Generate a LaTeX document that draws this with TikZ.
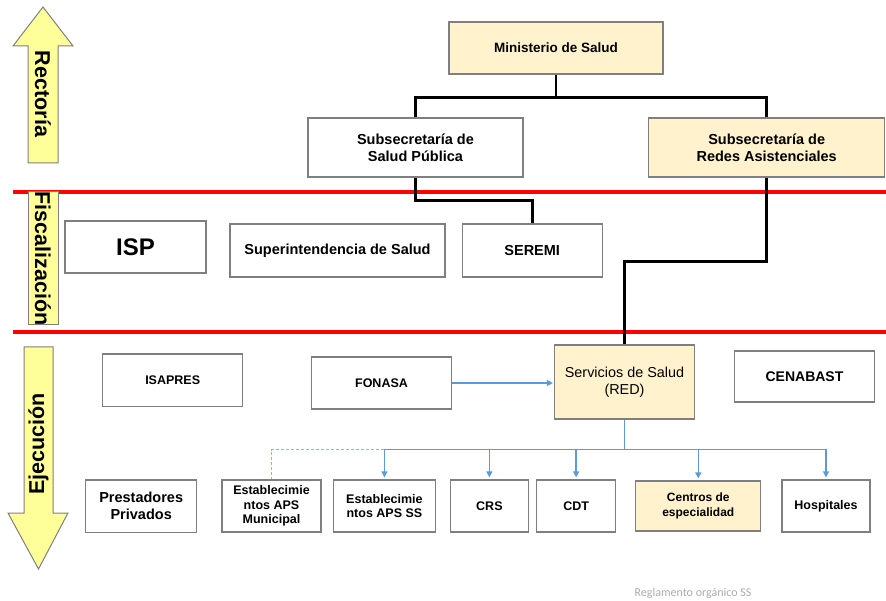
\documentclass[tikz,border=0pt]{standalone}
\usepackage{fontspec}
\setmainfont{Liberation Sans}
\newfontfamily\notefont{Carlito}
\usetikzlibrary{arrows.meta, positioning}

\definecolor{boxgray}{HTML}{7F7F7F}
\definecolor{softyellow}{HTML}{FFF2CC}
\definecolor{arrowyellow}{HTML}{FFFF99}
\definecolor{linkblue}{HTML}{5B9BD5}
\definecolor{linkgreen}{HTML}{92D050}

\begin{document}
\begin{tikzpicture}[
    x=1pt, y=-1pt,
    block/.style={rectangle, draw=boxgray, line width=1.2pt, fill=white, align=center, inner sep=0pt, font=\bfseries\fontsize{14.5}{17}\selectfont},
    smallblock/.style={block, font=\bfseries\fontsize{12.5}{14.5}\selectfont},
    keyblock/.style={block, fill=softyellow},
    tree/.style={line width=2.8pt},
    redline/.style={red, line width=4pt},
    blink/.style={linkblue, line width=1.3pt},
    barr/.style={blink, -{Triangle[length=6pt, width=6pt]}},
    gdash/.style={linkgreen, line width=1.3pt, dash pattern=on 3pt off 2pt},
    sidebox/.style={draw=boxgray, line width=1pt, fill=arrowyellow},
    sidelabel/.style={font=\bfseries\fontsize{21.5}{24}\selectfont},
]
\useasboundingbox (0,0) rectangle (886,601);

% level separators
\draw[redline] (13,191.7) -- (886,191.7);
\draw[redline] (13,332) -- (886,332);

% side arrows
\draw[sidebox] (43,7) -- (73,46) -- (58,46) -- (58,163) -- (28,163) -- (28,46) -- (13,46) -- cycle;
\node[sidelabel, rotate=-90] (rectoria) at (43,94) {Rectoría};
\draw[sidebox] (28,192) rectangle (58,325);
\node[sidelabel, rotate=-90] (fiscal) at (43,258.5) {Fiscalización};
\draw[sidebox] (24,347) -- (53,347) -- (53,513) -- (68,513) -- (38.5,569) -- (8,513) -- (24,513) -- cycle;
\node[sidelabel, rotate=90] (ejecucion) at (38.5,444) {Ejecución};

% Rectoria
\node[keyblock, font=\bfseries\fontsize{13.5}{16}\selectfont, minimum width=214pt, minimum height=52pt] (minsal) at (556,48) {Ministerio de Salud};
\node[block, minimum width=215pt, minimum height=59pt] (ssp) at (415.5,147.5) {Subsecretaría de\\Salud Pública};
\node[keyblock, minimum width=236pt, minimum height=59pt, right=124.5pt of ssp] (ssr) {Subsecretaría de\\Redes Asistenciales};

% Fiscalizacion
\node[block, font=\bfseries\fontsize{24}{28}\selectfont, minimum width=141pt, minimum height=52pt] (isp) at (135.5,247) {ISP};
\node[block, minimum width=215pt, minimum height=53pt] (supsal) at (337.5,250.5) {Superintendencia de Salud};
\node[block, minimum width=140pt, minimum height=53pt, right=16pt of supsal] (seremi) {SEREMI};

% Ejecucion
\node[smallblock, minimum width=140pt, minimum height=52.7pt] (isapres) at (172.7,380.3) {ISAPRES};
\node[smallblock, minimum width=140pt, minimum height=52pt] (fonasa) at (381.5,383) {FONASA};
\node[keyblock, font=\fontsize{14.4}{17}\selectfont, minimum width=140pt, minimum height=74pt] (servicios) at (624.5,382) {Servicios de Salud\\(RED)};
\node[block, font=\bfseries\fontsize{14}{17}\selectfont, minimum width=140pt, minimum height=51pt] (cenabast) at (804.5,376.5) {CENABAST};

\node[block, minimum width=111pt, minimum height=52.7pt] (prest) at (141.2,506.3) {Prestadores\\Privados};
\node[smallblock, minimum width=99pt, minimum height=52pt] (apsm) at (271.5,506) {Establecimie\\ntos APS\\Municipal};
\node[smallblock, minimum width=101.5pt, minimum height=52pt, right=11.5pt of apsm] (apsss) {Establecimie\\ntos APS SS};
\node[smallblock, minimum width=78pt, minimum height=52pt, right=14pt of apsss] (crs) {CRS};
\node[smallblock, minimum width=79pt, minimum height=52pt, right=7pt of crs] (cdt) {CDT};
\node[smallblock, fill=softyellow, font=\bfseries\fontsize{12}{14.5}\selectfont, minimum width=125pt, minimum height=50pt, right=19pt of cdt] (centros) {Centros de\\especialidad};
\node[smallblock, minimum width=88pt, minimum height=52pt, right=20pt of centros] (hosp) {Hospitales};

% black hierarchy
\draw[tree] (minsal.south) -- ++(0,23) coordinate (j1);
\draw[tree] (ssp.north) |- (j1) -| (ssr.north);
\draw[tree] (ssp.south) -- ++(0,23) -| (seremi.north);
\draw[tree] (ssr.south) -- ++(0,84) -| (servicios.north);

% red network links
\draw[barr] (fonasa.east) -- ([xshift=-1pt]fonasa.east -| servicios.west);
\draw[blink] (servicios.south) -- ++(0,30) coordinate (bus);
\foreach \n in {apsss, crs, cdt, centros, hosp}
    \draw[barr] (bus) -| ([yshift=2pt]\n.north);
\draw[gdash] (apsss.north |- bus) -| (apsm.north);

\node[text=gray!65, font=\notefont\fontsize{12}{14}\selectfont] (fuente) at (693,593) {Reglamento orgánico SS};
\end{tikzpicture}
\end{document}
